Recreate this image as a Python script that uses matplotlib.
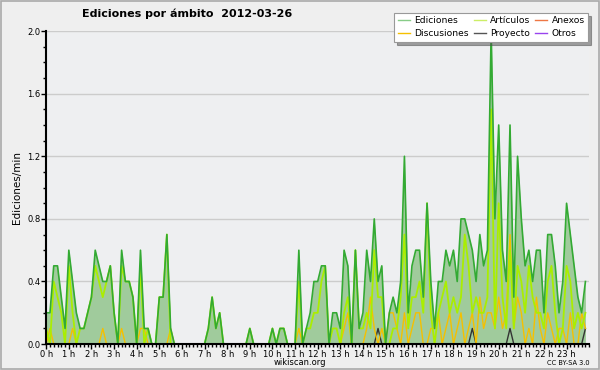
import numpy as np
import matplotlib
matplotlib.use("Agg")
import matplotlib.pyplot as plt
from matplotlib.lines import Line2D
from matplotlib.patches import Rectangle
from matplotlib.ticker import MultipleLocator, FixedLocator

# ediciones por minuto, un valor cada 10 minutos (6 por hora)
ediciones = [
    0.2, 0.2, 0.5, 0.5, 0.3, 0.1,   # 0 h
    0.6, 0.4, 0.2, 0.1, 0.1, 0.2,   # 1 h
    0.3, 0.6, 0.5, 0.4, 0.4, 0.5,   # 2 h
    0.2, 0.0, 0.6, 0.4, 0.4, 0.3,   # 3 h
    0.0, 0.6, 0.1, 0.1, 0.0, 0.0,   # 4 h
    0.3, 0.3, 0.7, 0.1, 0.0, 0.0,   # 5 h
    0.0, 0.0, 0.0, 0.0, 0.0, 0.0,   # 6 h
    0.0, 0.1, 0.3, 0.1, 0.2, 0.0,   # 7 h
    0.0, 0.0, 0.0, 0.0, 0.0, 0.0,   # 8 h
    0.1, 0.0, 0.0, 0.0, 0.0, 0.0,   # 9 h
    0.1, 0.0, 0.1, 0.1, 0.0, 0.0,   # 10 h
    0.0, 0.6, 0.0, 0.1, 0.2, 0.4,   # 11 h
    0.4, 0.5, 0.5, 0.0, 0.2, 0.2,   # 12 h
    0.1, 0.6, 0.5, 0.0, 0.6, 0.1,   # 13 h
    0.2, 0.6, 0.4, 0.8, 0.4, 0.5,   # 14 h
    0.0, 0.2, 0.3, 0.2, 0.4, 1.2,   # 15 h
    0.2, 0.5, 0.6, 0.6, 0.3, 0.9,   # 16 h
    0.4, 0.1, 0.4, 0.4, 0.6, 0.5,   # 17 h
    0.6, 0.4, 0.8, 0.8, 0.7, 0.6,   # 18 h
    0.4, 0.7, 0.5, 0.6, 2.0, 0.8,   # 19 h
    1.4, 0.6, 0.4, 1.4, 0.3, 1.2,   # 20 h
    0.8, 0.5, 0.6, 0.4, 0.6, 0.6,   # 21 h
    0.2, 0.7, 0.7, 0.5, 0.2, 0.4,   # 22 h
    0.9, 0.7, 0.5, 0.3, 0.2, 0.4,   # 23 h
]
articulos = [
    0.1, 0.0, 0.4, 0.3, 0.2, 0.0,
    0.5, 0.2, 0.0, 0.1, 0.1, 0.2,
    0.3, 0.5, 0.4, 0.3, 0.4, 0.5,
    0.2, 0.0, 0.5, 0.4, 0.4, 0.3,
    0.0, 0.5, 0.0, 0.1, 0.0, 0.0,
    0.3, 0.3, 0.7, 0.0, 0.0, 0.0,
    0.0, 0.0, 0.0, 0.0, 0.0, 0.0,
    0.0, 0.1, 0.3, 0.1, 0.2, 0.0,
    0.0, 0.0, 0.0, 0.0, 0.0, 0.0,
    0.1, 0.0, 0.0, 0.0, 0.0, 0.0,
    0.1, 0.0, 0.1, 0.1, 0.0, 0.0,
    0.0, 0.4, 0.0, 0.1, 0.1, 0.2,
    0.2, 0.4, 0.5, 0.0, 0.1, 0.1,
    0.0, 0.2, 0.3, 0.0, 0.6, 0.1,
    0.1, 0.2, 0.1, 0.6, 0.3, 0.3,
    0.0, 0.0, 0.1, 0.1, 0.3, 0.7,
    0.1, 0.3, 0.3, 0.4, 0.2, 0.9,
    0.2, 0.0, 0.2, 0.3, 0.4, 0.2,
    0.3, 0.2, 0.3, 0.7, 0.5, 0.2,
    0.3, 0.2, 0.2, 0.3, 1.5, 0.1,
    0.9, 0.3, 0.1, 0.6, 0.1, 0.5,
    0.4, 0.2, 0.5, 0.3, 0.2, 0.2,
    0.1, 0.4, 0.5, 0.2, 0.0, 0.1,
    0.5, 0.4, 0.1, 0.2, 0.1, 0.2,
]
discusiones = [
    0.0, 0.1, 0.0, 0.0, 0.0, 0.0,
    0.0, 0.1, 0.0, 0.0, 0.0, 0.0,
    0.0, 0.0, 0.0, 0.1, 0.0, 0.0,
    0.0, 0.0, 0.1, 0.0, 0.0, 0.0,
    0.0, 0.1, 0.1, 0.0, 0.0, 0.0,
    0.0, 0.0, 0.0, 0.1, 0.0, 0.0,
    0.0, 0.0, 0.0, 0.0, 0.0, 0.0,
    0.0, 0.0, 0.0, 0.0, 0.0, 0.0,
    0.0, 0.0, 0.0, 0.0, 0.0, 0.0,
    0.0, 0.0, 0.0, 0.0, 0.0, 0.0,
    0.0, 0.0, 0.0, 0.0, 0.0, 0.0,
    0.0, 0.1, 0.0, 0.0, 0.0, 0.0,
    0.0, 0.0, 0.0, 0.0, 0.0, 0.0,
    0.0, 0.1, 0.2, 0.0, 0.0, 0.0,
    0.0, 0.1, 0.3, 0.1, 0.0, 0.1,
    0.0, 0.2, 0.2, 0.1, 0.0, 0.2,
    0.0, 0.1, 0.2, 0.2, 0.0, 0.0,
    0.1, 0.1, 0.2, 0.0, 0.1, 0.2,
    0.0, 0.1, 0.2, 0.0, 0.1, 0.2,
    0.0, 0.3, 0.1, 0.2, 0.2, 0.1,
    0.3, 0.1, 0.2, 0.7, 0.1, 0.3,
    0.2, 0.0, 0.1, 0.0, 0.3, 0.1,
    0.0, 0.2, 0.1, 0.0, 0.1, 0.1,
    0.0, 0.2, 0.0, 0.0, 0.2, 0.1,
]
proyecto_idx = [88, 113, 123, 143]   # intervalos con 0.1 ediciones/min
proyecto_val = [0.1, 0.1, 0.1, 0.1]
anexos = [0.0] * 144
otros = [0.0] * 144

hour_labels = ["%d h" % h for h in range(24)]


def main():
    t = np.arange(144) / 6.0
    proyecto = np.zeros(144)
    proyecto[proyecto_idx] = proyecto_val

    c_ed = "#33aa33"
    c_art = "#aaee00"
    c_dis = "#f5c000"
    c_pro = "#333333"
    c_anx = "#ee7744"
    c_otr = "#9944ee"

    fig = plt.figure(figsize=(6, 3.7), dpi=100, facecolor="#efefef")
    fig.patches.append(Rectangle((0.0015, 0.002), 0.997, 0.995, transform=fig.transFigure,
                                 fill=False, edgecolor="#aaaaaa", lw=1.2))
    ax = fig.add_axes([0.077, 0.070, 0.905, 0.846])
    ax.set_facecolor("#eeeff1")

    ax.fill_between(t, 0, ediciones, color="#a0cb9c", lw=0, zorder=1)
    ax.plot(t, anexos, color=c_anx, lw=1, zorder=2)
    ax.plot(t, otros, color=c_otr, lw=1, zorder=2)
    ax.plot(t, proyecto, color=c_pro, lw=1, zorder=3)
    ax.plot(t, discusiones, color=c_dis, lw=1, zorder=4)
    ax.plot(t, articulos, color=c_art, lw=1.3, zorder=5)
    ax.plot(t, ediciones, color=c_ed, lw=1.2, zorder=6)

    ax.set_xlim(0, 24)
    ax.set_ylim(0, 2.0)
    ax.xaxis.set_major_locator(FixedLocator(range(24)))
    ax.set_xticklabels(hour_labels)
    ax.xaxis.set_minor_locator(MultipleLocator(1 / 6))
    ax.yaxis.set_major_locator(MultipleLocator(0.4))
    ax.yaxis.set_minor_locator(MultipleLocator(0.1))
    ax.yaxis.set_major_formatter(plt.FormatStrFormatter("%.1f"))
    ax.tick_params(axis="both", which="major", labelsize=6, length=3.5, width=1, pad=0.5)
    ax.tick_params(axis="both", which="minor", length=2.5, width=1)
    ax.grid(axis="y", color="#cccccc", lw=1, zorder=0)
    ax.set_axisbelow(True)
    for s in ["top", "right"]:
        ax.spines[s].set_visible(False)
    for s in ["left", "bottom"]:
        ax.spines[s].set_linewidth(1.5)
        ax.spines[s].set_zorder(7)

    ax.set_ylabel("Ediciones/min", fontsize=7.5, labelpad=4)
    fig.text(0.312, 0.962, "Ediciones por ámbito  2012-03-26", ha="center", va="center",
             fontsize=8, fontweight="bold")
    fig.text(0.5, 0.020, "wikiscan.org", ha="center", va="center", fontsize=6)
    fig.text(0.982, 0.020, "CC BY-SA 3.0", ha="right", va="center", fontsize=4.8)

    handles = [
        Line2D([], [], color="#88cc88", lw=1, label="Ediciones"),
        Line2D([], [], color=c_dis, lw=1, label="Discusiones"),
        Line2D([], [], color="#ccee66", lw=1, label="Artículos"),
        Line2D([], [], color="#555555", lw=1, label="Proyecto"),
        Line2D([], [], color=c_anx, lw=1, label="Anexos"),
        Line2D([], [], color=c_otr, lw=1, label="Otros"),
    ]
    leg = fig.legend(handles=handles, ncol=3, loc="upper right", bbox_to_anchor=(0.988, 0.978),
                     fontsize=6.6, frameon=True, fancybox=False, shadow=True,
                     handlelength=1.3, handletextpad=0.5, columnspacing=0.5,
                     labelspacing=0.4, borderpad=0.4)
    leg.get_frame().set_edgecolor("#999999")
    leg.get_frame().set_linewidth(0.8)

    plt.savefig("out.png", dpi=100, facecolor=fig.get_facecolor())


if __name__ == "__main__":
    main()
